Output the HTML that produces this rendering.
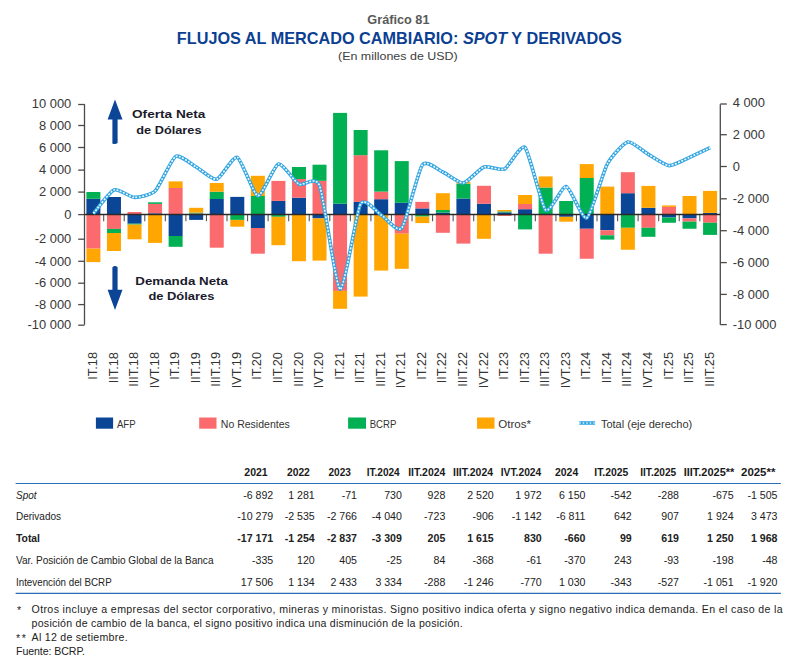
<!DOCTYPE html><html><head><meta charset="utf-8"><style>html,body{margin:0;padding:0;background:#fff;width:800px;height:668px;overflow:hidden}svg{display:block}text{font-family:"Liberation Sans",sans-serif}</style></head><body>
<svg width="800" height="668" viewBox="0 0 800 668">
<text x="398.4" y="23.8" text-anchor="middle" font-size="11.9" font-weight="bold" fill="#595959" textLength="62.2" lengthAdjust="spacingAndGlyphs">Gráfico 81</text>
<text x="176.8" y="44.1" font-size="17.1" font-weight="bold" fill="#0c3f92" textLength="445" lengthAdjust="spacingAndGlyphs">FLUJOS AL MERCADO CAMBIARIO: <tspan font-style="italic">SPOT</tspan> Y DERIVADOS</text>
<text x="338" y="60.3" font-size="10.6" fill="#404040" textLength="119.7" lengthAdjust="spacingAndGlyphs">(En millones de USD)</text>
<rect x="86.40" y="198.80" width="14.00" height="15.70" fill="#0b4595"/>
<rect x="86.40" y="192.00" width="14.00" height="6.80" fill="#00b052"/>
<rect x="86.40" y="214.50" width="14.00" height="34.10" fill="#fb6a6c"/>
<rect x="86.40" y="248.60" width="14.00" height="13.50" fill="#ffa602"/>
<rect x="106.96" y="197.00" width="14.00" height="17.50" fill="#0b4595"/>
<rect x="106.96" y="214.50" width="14.00" height="14.40" fill="#fb6a6c"/>
<rect x="106.96" y="228.90" width="14.00" height="4.10" fill="#00b052"/>
<rect x="106.96" y="233.00" width="14.00" height="18.00" fill="#ffa602"/>
<rect x="127.51" y="212.00" width="14.00" height="2.50" fill="#fb6a6c"/>
<rect x="127.51" y="214.50" width="14.00" height="9.20" fill="#0b4595"/>
<rect x="127.51" y="223.70" width="14.00" height="0.90" fill="#00b052"/>
<rect x="127.51" y="224.60" width="14.00" height="14.70" fill="#ffa602"/>
<rect x="148.07" y="213.30" width="14.00" height="1.20" fill="#0b4595"/>
<rect x="148.07" y="203.90" width="14.00" height="9.40" fill="#fb6a6c"/>
<rect x="148.07" y="202.30" width="14.00" height="1.60" fill="#00b052"/>
<rect x="148.07" y="214.50" width="14.00" height="28.40" fill="#ffa602"/>
<rect x="168.62" y="188.00" width="14.00" height="26.50" fill="#fb6a6c"/>
<rect x="168.62" y="181.40" width="14.00" height="6.60" fill="#ffa602"/>
<rect x="168.62" y="214.50" width="14.00" height="21.50" fill="#0b4595"/>
<rect x="168.62" y="236.00" width="14.00" height="10.80" fill="#00b052"/>
<rect x="189.18" y="213.50" width="14.00" height="1.00" fill="#fb6a6c"/>
<rect x="189.18" y="212.60" width="14.00" height="0.90" fill="#00b052"/>
<rect x="189.18" y="207.80" width="14.00" height="4.80" fill="#ffa602"/>
<rect x="189.18" y="214.50" width="14.00" height="5.40" fill="#0b4595"/>
<rect x="209.74" y="199.00" width="14.00" height="15.50" fill="#0b4595"/>
<rect x="209.74" y="191.70" width="14.00" height="7.30" fill="#00b052"/>
<rect x="209.74" y="183.00" width="14.00" height="8.70" fill="#ffa602"/>
<rect x="209.74" y="214.50" width="14.00" height="33.20" fill="#fb6a6c"/>
<rect x="230.29" y="196.90" width="14.00" height="17.60" fill="#0b4595"/>
<rect x="230.29" y="214.50" width="14.00" height="5.40" fill="#00b052"/>
<rect x="230.29" y="219.90" width="14.00" height="6.80" fill="#ffa602"/>
<rect x="250.85" y="196.00" width="14.00" height="18.50" fill="#00b052"/>
<rect x="250.85" y="175.80" width="14.00" height="20.20" fill="#ffa602"/>
<rect x="250.85" y="214.50" width="14.00" height="13.50" fill="#0b4595"/>
<rect x="250.85" y="228.00" width="14.00" height="25.70" fill="#fb6a6c"/>
<rect x="271.40" y="200.90" width="14.00" height="13.60" fill="#0b4595"/>
<rect x="271.40" y="180.90" width="14.00" height="20.00" fill="#fb6a6c"/>
<rect x="271.40" y="214.50" width="14.00" height="2.30" fill="#00b052"/>
<rect x="271.40" y="216.80" width="14.00" height="28.40" fill="#ffa602"/>
<rect x="291.96" y="197.70" width="14.00" height="16.80" fill="#0b4595"/>
<rect x="291.96" y="179.00" width="14.00" height="18.70" fill="#fb6a6c"/>
<rect x="291.96" y="167.00" width="14.00" height="12.00" fill="#00b052"/>
<rect x="291.96" y="214.50" width="14.00" height="46.70" fill="#ffa602"/>
<rect x="312.52" y="180.80" width="14.00" height="33.70" fill="#fb6a6c"/>
<rect x="312.52" y="164.70" width="14.00" height="16.10" fill="#00b052"/>
<rect x="312.52" y="214.50" width="14.00" height="3.90" fill="#0b4595"/>
<rect x="312.52" y="218.40" width="14.00" height="42.20" fill="#ffa602"/>
<rect x="333.07" y="203.70" width="14.00" height="10.80" fill="#0b4595"/>
<rect x="333.07" y="112.90" width="14.00" height="90.80" fill="#00b052"/>
<rect x="333.07" y="214.50" width="14.00" height="76.40" fill="#fb6a6c"/>
<rect x="333.07" y="290.90" width="14.00" height="17.90" fill="#ffa602"/>
<rect x="353.63" y="201.90" width="14.00" height="12.60" fill="#0b4595"/>
<rect x="353.63" y="155.20" width="14.00" height="46.70" fill="#fb6a6c"/>
<rect x="353.63" y="130.00" width="14.00" height="25.20" fill="#00b052"/>
<rect x="353.63" y="214.50" width="14.00" height="82.10" fill="#ffa602"/>
<rect x="374.18" y="199.20" width="14.00" height="15.30" fill="#0b4595"/>
<rect x="374.18" y="191.60" width="14.00" height="7.60" fill="#fb6a6c"/>
<rect x="374.18" y="150.30" width="14.00" height="41.30" fill="#00b052"/>
<rect x="374.18" y="214.50" width="14.00" height="56.10" fill="#ffa602"/>
<rect x="394.74" y="202.80" width="14.00" height="11.70" fill="#0b4595"/>
<rect x="394.74" y="161.10" width="14.00" height="41.70" fill="#00b052"/>
<rect x="394.74" y="214.50" width="14.00" height="19.20" fill="#fb6a6c"/>
<rect x="394.74" y="233.70" width="14.00" height="35.10" fill="#ffa602"/>
<rect x="415.30" y="208.40" width="14.00" height="6.10" fill="#0b4595"/>
<rect x="415.30" y="201.90" width="14.00" height="6.50" fill="#fb6a6c"/>
<rect x="415.30" y="214.50" width="14.00" height="2.10" fill="#00b052"/>
<rect x="415.30" y="216.60" width="14.00" height="6.50" fill="#ffa602"/>
<rect x="435.85" y="212.60" width="14.00" height="1.90" fill="#0b4595"/>
<rect x="435.85" y="210.00" width="14.00" height="2.60" fill="#00b052"/>
<rect x="435.85" y="193.20" width="14.00" height="16.80" fill="#ffa602"/>
<rect x="435.85" y="214.50" width="14.00" height="18.30" fill="#fb6a6c"/>
<rect x="456.41" y="198.50" width="14.00" height="16.00" fill="#0b4595"/>
<rect x="456.41" y="183.60" width="14.00" height="14.90" fill="#00b052"/>
<rect x="456.41" y="181.70" width="14.00" height="1.90" fill="#ffa602"/>
<rect x="456.41" y="214.50" width="14.00" height="29.10" fill="#fb6a6c"/>
<rect x="476.96" y="203.70" width="14.00" height="10.80" fill="#0b4595"/>
<rect x="476.96" y="185.80" width="14.00" height="17.90" fill="#fb6a6c"/>
<rect x="476.96" y="214.50" width="14.00" height="24.30" fill="#ffa602"/>
<rect x="497.52" y="212.40" width="14.00" height="2.10" fill="#0b4595"/>
<rect x="497.52" y="211.40" width="14.00" height="1.00" fill="#00b052"/>
<rect x="497.52" y="210.00" width="14.00" height="1.40" fill="#ffa602"/>
<rect x="497.52" y="214.50" width="14.00" height="1.40" fill="#fb6a6c"/>
<rect x="518.08" y="209.20" width="14.00" height="5.30" fill="#0b4595"/>
<rect x="518.08" y="204.00" width="14.00" height="5.20" fill="#fb6a6c"/>
<rect x="518.08" y="195.00" width="14.00" height="9.00" fill="#ffa602"/>
<rect x="518.08" y="214.50" width="14.00" height="14.90" fill="#00b052"/>
<rect x="538.63" y="187.50" width="14.00" height="27.00" fill="#00b052"/>
<rect x="538.63" y="176.40" width="14.00" height="11.10" fill="#ffa602"/>
<rect x="538.63" y="214.50" width="14.00" height="39.20" fill="#fb6a6c"/>
<rect x="559.19" y="201.00" width="14.00" height="13.50" fill="#00b052"/>
<rect x="559.19" y="214.50" width="14.00" height="2.30" fill="#0b4595"/>
<rect x="559.19" y="216.80" width="14.00" height="4.90" fill="#ffa602"/>
<rect x="579.74" y="178.00" width="14.00" height="36.50" fill="#00b052"/>
<rect x="579.74" y="164.10" width="14.00" height="13.90" fill="#ffa602"/>
<rect x="579.74" y="214.50" width="14.00" height="14.25" fill="#0b4595"/>
<rect x="579.74" y="228.75" width="14.00" height="30.00" fill="#fb6a6c"/>
<rect x="600.30" y="186.60" width="14.00" height="27.90" fill="#ffa602"/>
<rect x="600.30" y="214.50" width="14.00" height="15.75" fill="#0b4595"/>
<rect x="600.30" y="230.25" width="14.00" height="5.05" fill="#fb6a6c"/>
<rect x="600.30" y="235.30" width="14.00" height="4.30" fill="#00b052"/>
<rect x="620.86" y="193.20" width="14.00" height="21.30" fill="#0b4595"/>
<rect x="620.86" y="172.20" width="14.00" height="21.00" fill="#fb6a6c"/>
<rect x="620.86" y="214.50" width="14.00" height="13.30" fill="#00b052"/>
<rect x="620.86" y="227.80" width="14.00" height="21.95" fill="#ffa602"/>
<rect x="641.41" y="207.80" width="14.00" height="6.70" fill="#0b4595"/>
<rect x="641.41" y="185.90" width="14.00" height="21.90" fill="#ffa602"/>
<rect x="641.41" y="214.50" width="14.00" height="13.30" fill="#fb6a6c"/>
<rect x="641.41" y="227.80" width="14.00" height="9.00" fill="#00b052"/>
<rect x="661.97" y="206.90" width="14.00" height="7.60" fill="#fb6a6c"/>
<rect x="661.97" y="205.40" width="14.00" height="1.50" fill="#ffa602"/>
<rect x="661.97" y="214.50" width="14.00" height="3.00" fill="#0b4595"/>
<rect x="661.97" y="217.50" width="14.00" height="5.25" fill="#00b052"/>
<rect x="682.52" y="196.00" width="14.00" height="18.50" fill="#ffa602"/>
<rect x="682.52" y="214.50" width="14.00" height="3.90" fill="#0b4595"/>
<rect x="682.52" y="218.40" width="14.00" height="3.20" fill="#fb6a6c"/>
<rect x="682.52" y="221.60" width="14.00" height="7.15" fill="#00b052"/>
<rect x="703.08" y="212.90" width="14.00" height="1.60" fill="#0b4595"/>
<rect x="703.08" y="190.90" width="14.00" height="22.00" fill="#ffa602"/>
<rect x="703.08" y="214.50" width="14.00" height="8.25" fill="#fb6a6c"/>
<rect x="703.08" y="222.75" width="14.00" height="12.15" fill="#00b052"/>
<g stroke="#4a4a4a" stroke-width="1.3" fill="none">
<path d="M84.50,104.20 V324.80"/>
<path d="M720.30,104.20 V324.80"/>
<path d="M78.2,104.50 H84.50"/>
<path d="M78.2,125.50 H84.50"/>
<path d="M78.2,147.50 H84.50"/>
<path d="M78.2,170.10 H84.50"/>
<path d="M78.2,192.10 H84.50"/>
<path d="M78.2,214.60 H84.50"/>
<path d="M78.2,239.20 H84.50"/>
<path d="M78.2,261.30 H84.50"/>
<path d="M78.2,283.20 H84.50"/>
<path d="M78.2,304.60 H84.50"/>
<path d="M78.2,325.20 H84.50"/>
<path d="M720.30,104.00 H726.8"/>
<path d="M720.30,134.70 H726.8"/>
<path d="M720.30,166.50 H726.8"/>
<path d="M720.30,198.80 H726.8"/>
<path d="M720.30,230.70 H726.8"/>
<path d="M720.30,262.60 H726.8"/>
<path d="M720.30,294.40 H726.8"/>
<path d="M720.30,324.60 H726.8"/>
</g>
<g stroke="#555" stroke-width="1.1" fill="none">
<path d="M103.68,214.50 V221.2"/>
<path d="M124.23,214.50 V221.2"/>
<path d="M144.79,214.50 V221.2"/>
<path d="M165.35,214.50 V221.2"/>
<path d="M185.90,214.50 V221.2"/>
<path d="M206.46,214.50 V221.2"/>
<path d="M227.01,214.50 V221.2"/>
<path d="M247.57,214.50 V221.2"/>
<path d="M268.13,214.50 V221.2"/>
<path d="M288.68,214.50 V221.2"/>
<path d="M309.24,214.50 V221.2"/>
<path d="M329.79,214.50 V221.2"/>
<path d="M350.35,214.50 V221.2"/>
<path d="M370.91,214.50 V221.2"/>
<path d="M391.46,214.50 V221.2"/>
<path d="M412.02,214.50 V221.2"/>
<path d="M432.57,214.50 V221.2"/>
<path d="M453.13,214.50 V221.2"/>
<path d="M473.69,214.50 V221.2"/>
<path d="M494.24,214.50 V221.2"/>
<path d="M514.80,214.50 V221.2"/>
<path d="M535.35,214.50 V221.2"/>
<path d="M555.91,214.50 V221.2"/>
<path d="M576.47,214.50 V221.2"/>
<path d="M597.02,214.50 V221.2"/>
<path d="M617.58,214.50 V221.2"/>
<path d="M638.13,214.50 V221.2"/>
<path d="M658.69,214.50 V221.2"/>
<path d="M679.25,214.50 V221.2"/>
<path d="M699.80,214.50 V221.2"/>
</g>
<path d="M84.50,214.50 H720.30" stroke="#2a2a2a" stroke-width="1.4"/>
<text x="71.3" y="107.70" text-anchor="end" font-size="12.9" fill="#383838">10 000</text>
<text x="71.3" y="129.70" text-anchor="end" font-size="12.9" fill="#383838">8 000</text>
<text x="71.3" y="151.70" text-anchor="end" font-size="12.9" fill="#383838">6 000</text>
<text x="71.3" y="174.30" text-anchor="end" font-size="12.9" fill="#383838">4 000</text>
<text x="71.3" y="196.30" text-anchor="end" font-size="12.9" fill="#383838">2 000</text>
<text x="71.3" y="218.80" text-anchor="end" font-size="12.9" fill="#383838">0</text>
<text x="71.3" y="243.40" text-anchor="end" font-size="12.9" fill="#383838">-2 000</text>
<text x="71.3" y="265.50" text-anchor="end" font-size="12.9" fill="#383838">-4 000</text>
<text x="71.3" y="287.40" text-anchor="end" font-size="12.9" fill="#383838">-6 000</text>
<text x="71.3" y="308.80" text-anchor="end" font-size="12.9" fill="#383838">-8 000</text>
<text x="71.3" y="329.40" text-anchor="end" font-size="12.9" fill="#383838">-10 000</text>
<text x="732.7" y="107.20" font-size="12.9" fill="#383838">4 000</text>
<text x="732.7" y="138.90" font-size="12.9" fill="#383838">2 000</text>
<text x="732.7" y="170.70" font-size="12.9" fill="#383838">0</text>
<text x="732.7" y="203.00" font-size="12.9" fill="#383838">-2 000</text>
<text x="732.7" y="234.90" font-size="12.9" fill="#383838">-4 000</text>
<text x="732.7" y="266.80" font-size="12.9" fill="#383838">-6 000</text>
<text x="732.7" y="298.60" font-size="12.9" fill="#383838">-8 000</text>
<text x="732.7" y="328.80" font-size="12.9" fill="#383838">-10 000</text>
<text transform="translate(97.00,352) rotate(-90)" text-anchor="end" font-size="12.8" fill="#333">IT.18</text>
<text transform="translate(117.56,352) rotate(-90)" text-anchor="end" font-size="12.8" fill="#333">IIT.18</text>
<text transform="translate(138.11,352) rotate(-90)" text-anchor="end" font-size="12.8" fill="#333">IIIT.18</text>
<text transform="translate(158.67,352) rotate(-90)" text-anchor="end" font-size="12.8" fill="#333">IVT.18</text>
<text transform="translate(179.22,352) rotate(-90)" text-anchor="end" font-size="12.8" fill="#333">IT.19</text>
<text transform="translate(199.78,352) rotate(-90)" text-anchor="end" font-size="12.8" fill="#333">IIT.19</text>
<text transform="translate(220.34,352) rotate(-90)" text-anchor="end" font-size="12.8" fill="#333">IIIT.19</text>
<text transform="translate(240.89,352) rotate(-90)" text-anchor="end" font-size="12.8" fill="#333">IVT.19</text>
<text transform="translate(261.45,352) rotate(-90)" text-anchor="end" font-size="12.8" fill="#333">IT.20</text>
<text transform="translate(282.00,352) rotate(-90)" text-anchor="end" font-size="12.8" fill="#333">IIT.20</text>
<text transform="translate(302.56,352) rotate(-90)" text-anchor="end" font-size="12.8" fill="#333">IIIT.20</text>
<text transform="translate(323.12,352) rotate(-90)" text-anchor="end" font-size="12.8" fill="#333">IVT.20</text>
<text transform="translate(343.67,352) rotate(-90)" text-anchor="end" font-size="12.8" fill="#333">IT.21</text>
<text transform="translate(364.23,352) rotate(-90)" text-anchor="end" font-size="12.8" fill="#333">IIT.21</text>
<text transform="translate(384.78,352) rotate(-90)" text-anchor="end" font-size="12.8" fill="#333">IIIT.21</text>
<text transform="translate(405.34,352) rotate(-90)" text-anchor="end" font-size="12.8" fill="#333">IVT.21</text>
<text transform="translate(425.90,352) rotate(-90)" text-anchor="end" font-size="12.8" fill="#333">IT.22</text>
<text transform="translate(446.45,352) rotate(-90)" text-anchor="end" font-size="12.8" fill="#333">IIT.22</text>
<text transform="translate(467.01,352) rotate(-90)" text-anchor="end" font-size="12.8" fill="#333">IIIT.22</text>
<text transform="translate(487.56,352) rotate(-90)" text-anchor="end" font-size="12.8" fill="#333">IVT.22</text>
<text transform="translate(508.12,352) rotate(-90)" text-anchor="end" font-size="12.8" fill="#333">IT.23</text>
<text transform="translate(528.68,352) rotate(-90)" text-anchor="end" font-size="12.8" fill="#333">IIT.23</text>
<text transform="translate(549.23,352) rotate(-90)" text-anchor="end" font-size="12.8" fill="#333">IIIT.23</text>
<text transform="translate(569.79,352) rotate(-90)" text-anchor="end" font-size="12.8" fill="#333">IVT.23</text>
<text transform="translate(590.34,352) rotate(-90)" text-anchor="end" font-size="12.8" fill="#333">IT.24</text>
<text transform="translate(610.90,352) rotate(-90)" text-anchor="end" font-size="12.8" fill="#333">IIT.24</text>
<text transform="translate(631.46,352) rotate(-90)" text-anchor="end" font-size="12.8" fill="#333">IIIT.24</text>
<text transform="translate(652.01,352) rotate(-90)" text-anchor="end" font-size="12.8" fill="#333">IVT.24</text>
<text transform="translate(672.57,352) rotate(-90)" text-anchor="end" font-size="12.8" fill="#333">IT.25</text>
<text transform="translate(693.12,352) rotate(-90)" text-anchor="end" font-size="12.8" fill="#333">IIT.25</text>
<text transform="translate(713.68,352) rotate(-90)" text-anchor="end" font-size="12.8" fill="#333">IIIT.25</text>
<path d="M93.40,213.50 C95.46,211.15 109.84,191.61 113.96,190.00 C118.07,188.39 130.40,197.30 134.51,197.40 C138.62,197.50 150.96,195.09 155.07,191.00 C159.18,186.91 171.51,158.90 175.62,156.50 C179.74,154.10 192.07,164.72 196.18,167.00 C200.29,169.28 212.62,180.27 216.74,179.30 C220.85,178.33 233.18,155.65 237.29,157.30 C241.40,158.95 253.74,195.13 257.85,195.80 C261.96,196.47 274.29,165.15 278.40,164.00 C282.52,162.85 294.85,182.15 298.96,184.30 C303.07,186.45 315.40,175.01 319.52,185.50 C323.63,195.99 335.96,287.36 340.07,289.20 C344.18,291.04 356.52,211.32 360.63,203.90 C364.74,196.48 377.07,212.58 381.18,215.00 C385.30,217.42 397.63,233.10 401.74,228.10 C405.85,223.10 418.18,170.61 422.30,165.00 C426.41,159.39 438.74,170.20 442.85,172.00 C446.96,173.80 459.30,183.50 463.41,183.00 C467.52,182.50 479.85,168.40 483.96,167.00 C488.08,165.60 500.41,170.94 504.52,169.00 C508.63,167.06 520.96,143.50 525.08,147.60 C529.19,151.70 541.52,206.10 545.63,210.00 C549.74,213.90 562.08,185.80 566.19,186.60 C570.30,187.40 582.63,220.26 586.74,218.00 C590.86,215.74 603.19,171.60 607.30,164.00 C611.41,156.40 623.74,142.96 627.86,142.00 C631.97,141.04 644.30,152.04 648.41,154.40 C652.52,156.76 664.86,165.30 668.97,165.60 C673.08,165.90 685.41,159.19 689.52,157.40 C693.64,155.61 708.02,148.67 710.08,147.70" fill="none" stroke="#33a6e2" stroke-width="3.6" stroke-linejoin="round"/>
<path d="M93.40,213.50 C95.46,211.15 109.84,191.61 113.96,190.00 C118.07,188.39 130.40,197.30 134.51,197.40 C138.62,197.50 150.96,195.09 155.07,191.00 C159.18,186.91 171.51,158.90 175.62,156.50 C179.74,154.10 192.07,164.72 196.18,167.00 C200.29,169.28 212.62,180.27 216.74,179.30 C220.85,178.33 233.18,155.65 237.29,157.30 C241.40,158.95 253.74,195.13 257.85,195.80 C261.96,196.47 274.29,165.15 278.40,164.00 C282.52,162.85 294.85,182.15 298.96,184.30 C303.07,186.45 315.40,175.01 319.52,185.50 C323.63,195.99 335.96,287.36 340.07,289.20 C344.18,291.04 356.52,211.32 360.63,203.90 C364.74,196.48 377.07,212.58 381.18,215.00 C385.30,217.42 397.63,233.10 401.74,228.10 C405.85,223.10 418.18,170.61 422.30,165.00 C426.41,159.39 438.74,170.20 442.85,172.00 C446.96,173.80 459.30,183.50 463.41,183.00 C467.52,182.50 479.85,168.40 483.96,167.00 C488.08,165.60 500.41,170.94 504.52,169.00 C508.63,167.06 520.96,143.50 525.08,147.60 C529.19,151.70 541.52,206.10 545.63,210.00 C549.74,213.90 562.08,185.80 566.19,186.60 C570.30,187.40 582.63,220.26 586.74,218.00 C590.86,215.74 603.19,171.60 607.30,164.00 C611.41,156.40 623.74,142.96 627.86,142.00 C631.97,141.04 644.30,152.04 648.41,154.40 C652.52,156.76 664.86,165.30 668.97,165.60 C673.08,165.90 685.41,159.19 689.52,157.40 C693.64,155.61 708.02,148.67 710.08,147.70" fill="none" stroke="#ffffff" stroke-width="1.6" stroke-dasharray="1.9 1.5" opacity="0.95"/>
<path d="M115,99.4 L122.5,119.6 L117.6,119.6 L117.6,143 Q115,145 112.4,143.4 L112.4,119.6 L107.6,119.6 Z" fill="#0c4596"/>
<path d="M115,310 L122.5,289.7 L117.6,289.7 L117.6,267.3 Q115,264.8 112.4,267.3 L112.4,289.7 L107.6,289.7 Z" fill="#0c4596"/>
<text x="132" y="118" font-size="11.8" font-weight="bold" fill="#1a1a2a" textLength="73.4" lengthAdjust="spacingAndGlyphs">Oferta Neta</text>
<text x="136.3" y="133.8" font-size="11.8" font-weight="bold" fill="#1a1a2a" textLength="65.2" lengthAdjust="spacingAndGlyphs">de Dólares</text>
<text x="135.3" y="284.7" font-size="11.8" font-weight="bold" fill="#1a1a2a" textLength="92.6" lengthAdjust="spacingAndGlyphs">Demanda Neta</text>
<text x="148.4" y="300" font-size="11.8" font-weight="bold" fill="#1a1a2a" textLength="66" lengthAdjust="spacingAndGlyphs">de Dólares</text>
<rect x="95.9" y="417.5" width="17.2" height="11.2" fill="#0b4595"/>
<text x="116.9" y="427.5" font-size="10.8" fill="#333" textLength="18.7" lengthAdjust="spacingAndGlyphs">AFP</text>
<rect x="199.2" y="417.5" width="17.3" height="11.2" fill="#fb6a6c"/>
<text x="220.8" y="427.5" font-size="10.8" fill="#333" textLength="69" lengthAdjust="spacingAndGlyphs">No Residentes</text>
<rect x="348.1" y="417.5" width="17.9" height="11.2" fill="#00b052"/>
<text x="369.7" y="427.5" font-size="10.8" fill="#333" textLength="26.7" lengthAdjust="spacingAndGlyphs">BCRP</text>
<rect x="477" y="417.5" width="17.5" height="11.2" fill="#ffa602"/>
<text x="498.3" y="427.5" font-size="10.8" fill="#333" textLength="32.7" lengthAdjust="spacingAndGlyphs">Otros*</text>
<path d="M579.3,423 H595.1" stroke="#33a6e2" stroke-width="3.6"/>
<path d="M579.3,423 H595.1" stroke="#fff" stroke-width="1.3" stroke-dasharray="1.4 2.1" opacity="0.85"/>
<text x="600.9" y="427.5" font-size="10.8" fill="#333" textLength="91.4" lengthAdjust="spacingAndGlyphs">Total (eje derecho)</text>
<text x="256.00" y="476" text-anchor="middle" font-size="10.4" font-weight="bold" fill="#1a1a1a" textLength="23.4" lengthAdjust="spacingAndGlyphs">2021</text>
<text x="298.40" y="476" text-anchor="middle" font-size="10.4" font-weight="bold" fill="#1a1a1a" textLength="22.9" lengthAdjust="spacingAndGlyphs">2022</text>
<text x="339.75" y="476" text-anchor="middle" font-size="10.4" font-weight="bold" fill="#1a1a1a" textLength="22.5" lengthAdjust="spacingAndGlyphs">2023</text>
<text x="383.20" y="476" text-anchor="middle" font-size="10.4" font-weight="bold" fill="#1a1a1a" textLength="33.0" lengthAdjust="spacingAndGlyphs">IT.2024</text>
<text x="426.75" y="476" text-anchor="middle" font-size="10.4" font-weight="bold" fill="#1a1a1a" textLength="37.1" lengthAdjust="spacingAndGlyphs">IIT.2024</text>
<text x="473.00" y="476" text-anchor="middle" font-size="10.4" font-weight="bold" fill="#1a1a1a" textLength="40.0" lengthAdjust="spacingAndGlyphs">IIIT.2024</text>
<text x="521.00" y="476" text-anchor="middle" font-size="10.4" font-weight="bold" fill="#1a1a1a" textLength="40.5" lengthAdjust="spacingAndGlyphs">IVT.2024</text>
<text x="566.60" y="476" text-anchor="middle" font-size="10.4" font-weight="bold" fill="#1a1a1a" textLength="23.2" lengthAdjust="spacingAndGlyphs">2024</text>
<text x="611.25" y="476" text-anchor="middle" font-size="10.4" font-weight="bold" fill="#1a1a1a" textLength="34.0" lengthAdjust="spacingAndGlyphs">IT.2025</text>
<text x="658.25" y="476" text-anchor="middle" font-size="10.4" font-weight="bold" fill="#1a1a1a" textLength="36.0" lengthAdjust="spacingAndGlyphs">IIT.2025</text>
<text x="709.00" y="476" text-anchor="middle" font-size="10.4" font-weight="bold" fill="#1a1a1a" textLength="50.6" lengthAdjust="spacingAndGlyphs">IIIT.2025**</text>
<text x="758.20" y="476" text-anchor="middle" font-size="10.4" font-weight="bold" fill="#1a1a1a" textLength="34.3" lengthAdjust="spacingAndGlyphs">2025**</text>
<path d="M15.6,483.5 H780.9" stroke="#2a6db5" stroke-width="1.2"/>
<path d="M15.6,593.3 H780.9" stroke="#2a6db5" stroke-width="1.2"/>
<text x="16" y="499.2" font-size="10.6" fill="#222" font-style="italic" textLength="20.5" lengthAdjust="spacingAndGlyphs">Spot</text>
<text x="273.20" y="499.2" text-anchor="end" font-size="10.6" fill="#222">-6 892</text>
<text x="314.70" y="499.2" text-anchor="end" font-size="10.6" fill="#222">1 281</text>
<text x="357.00" y="499.2" text-anchor="end" font-size="10.6" fill="#222">-71</text>
<text x="401.90" y="499.2" text-anchor="end" font-size="10.6" fill="#222">730</text>
<text x="445.30" y="499.2" text-anchor="end" font-size="10.6" fill="#222">928</text>
<text x="493.75" y="499.2" text-anchor="end" font-size="10.6" fill="#222">2 520</text>
<text x="541.75" y="499.2" text-anchor="end" font-size="10.6" fill="#222">1 972</text>
<text x="585.50" y="499.2" text-anchor="end" font-size="10.6" fill="#222">6 150</text>
<text x="631.75" y="499.2" text-anchor="end" font-size="10.6" fill="#222">-542</text>
<text x="679.00" y="499.2" text-anchor="end" font-size="10.6" fill="#222">-288</text>
<text x="733.60" y="499.2" text-anchor="end" font-size="10.6" fill="#222">-675</text>
<text x="777.50" y="499.2" text-anchor="end" font-size="10.6" fill="#222">-1 505</text>
<text x="16" y="520.0" font-size="10.6" fill="#222" textLength="45.0" lengthAdjust="spacingAndGlyphs">Derivados</text>
<text x="273.20" y="520.0" text-anchor="end" font-size="10.6" fill="#222">-10 279</text>
<text x="314.70" y="520.0" text-anchor="end" font-size="10.6" fill="#222">-2 535</text>
<text x="357.00" y="520.0" text-anchor="end" font-size="10.6" fill="#222">-2 766</text>
<text x="401.90" y="520.0" text-anchor="end" font-size="10.6" fill="#222">-4 040</text>
<text x="445.30" y="520.0" text-anchor="end" font-size="10.6" fill="#222">-723</text>
<text x="493.75" y="520.0" text-anchor="end" font-size="10.6" fill="#222">-906</text>
<text x="541.75" y="520.0" text-anchor="end" font-size="10.6" fill="#222">-1 142</text>
<text x="585.50" y="520.0" text-anchor="end" font-size="10.6" fill="#222">-6 811</text>
<text x="631.75" y="520.0" text-anchor="end" font-size="10.6" fill="#222">642</text>
<text x="679.00" y="520.0" text-anchor="end" font-size="10.6" fill="#222">907</text>
<text x="733.60" y="520.0" text-anchor="end" font-size="10.6" fill="#222">1 924</text>
<text x="777.50" y="520.0" text-anchor="end" font-size="10.6" fill="#222">3 473</text>
<text x="16" y="542.0" font-size="10.6" fill="#222" font-weight="bold" textLength="24.0" lengthAdjust="spacingAndGlyphs">Total</text>
<text x="273.20" y="542.0" text-anchor="end" font-size="10.6" fill="#222" font-weight="bold">-17 171</text>
<text x="314.70" y="542.0" text-anchor="end" font-size="10.6" fill="#222" font-weight="bold">-1 254</text>
<text x="357.00" y="542.0" text-anchor="end" font-size="10.6" fill="#222" font-weight="bold">-2 837</text>
<text x="401.90" y="542.0" text-anchor="end" font-size="10.6" fill="#222" font-weight="bold">-3 309</text>
<text x="445.30" y="542.0" text-anchor="end" font-size="10.6" fill="#222" font-weight="bold">205</text>
<text x="493.75" y="542.0" text-anchor="end" font-size="10.6" fill="#222" font-weight="bold">1 615</text>
<text x="541.75" y="542.0" text-anchor="end" font-size="10.6" fill="#222" font-weight="bold">830</text>
<text x="585.50" y="542.0" text-anchor="end" font-size="10.6" fill="#222" font-weight="bold">-660</text>
<text x="631.75" y="542.0" text-anchor="end" font-size="10.6" fill="#222" font-weight="bold">99</text>
<text x="679.00" y="542.0" text-anchor="end" font-size="10.6" fill="#222" font-weight="bold">619</text>
<text x="733.60" y="542.0" text-anchor="end" font-size="10.6" fill="#222" font-weight="bold">1 250</text>
<text x="777.50" y="542.0" text-anchor="end" font-size="10.6" fill="#222" font-weight="bold">1 968</text>
<text x="16" y="564.0" font-size="10.6" fill="#222" textLength="197.5" lengthAdjust="spacingAndGlyphs">Var. Posición de Cambio Global de la Banca</text>
<text x="273.20" y="564.0" text-anchor="end" font-size="10.6" fill="#222">-335</text>
<text x="314.70" y="564.0" text-anchor="end" font-size="10.6" fill="#222">120</text>
<text x="357.00" y="564.0" text-anchor="end" font-size="10.6" fill="#222">405</text>
<text x="401.90" y="564.0" text-anchor="end" font-size="10.6" fill="#222">-25</text>
<text x="445.30" y="564.0" text-anchor="end" font-size="10.6" fill="#222">84</text>
<text x="493.75" y="564.0" text-anchor="end" font-size="10.6" fill="#222">-368</text>
<text x="541.75" y="564.0" text-anchor="end" font-size="10.6" fill="#222">-61</text>
<text x="585.50" y="564.0" text-anchor="end" font-size="10.6" fill="#222">-370</text>
<text x="631.75" y="564.0" text-anchor="end" font-size="10.6" fill="#222">243</text>
<text x="679.00" y="564.0" text-anchor="end" font-size="10.6" fill="#222">-93</text>
<text x="733.60" y="564.0" text-anchor="end" font-size="10.6" fill="#222">-198</text>
<text x="777.50" y="564.0" text-anchor="end" font-size="10.6" fill="#222">-48</text>
<text x="16" y="585.8" font-size="10.6" fill="#222" textLength="95.7" lengthAdjust="spacingAndGlyphs">Intevención del BCRP</text>
<text x="273.20" y="585.8" text-anchor="end" font-size="10.6" fill="#222">17 506</text>
<text x="314.70" y="585.8" text-anchor="end" font-size="10.6" fill="#222">1 134</text>
<text x="357.00" y="585.8" text-anchor="end" font-size="10.6" fill="#222">2 433</text>
<text x="401.90" y="585.8" text-anchor="end" font-size="10.6" fill="#222">3 334</text>
<text x="445.30" y="585.8" text-anchor="end" font-size="10.6" fill="#222">-288</text>
<text x="493.75" y="585.8" text-anchor="end" font-size="10.6" fill="#222">-1 246</text>
<text x="541.75" y="585.8" text-anchor="end" font-size="10.6" fill="#222">-770</text>
<text x="585.50" y="585.8" text-anchor="end" font-size="10.6" fill="#222">1 030</text>
<text x="631.75" y="585.8" text-anchor="end" font-size="10.6" fill="#222">-343</text>
<text x="679.00" y="585.8" text-anchor="end" font-size="10.6" fill="#222">-527</text>
<text x="733.60" y="585.8" text-anchor="end" font-size="10.6" fill="#222">-1 051</text>
<text x="777.50" y="585.8" text-anchor="end" font-size="10.6" fill="#222">-1 920</text>
<text x="17" y="613.6" font-size="10.6" fill="#222">*</text>
<text x="31.6" y="612.6" font-size="10.6" fill="#222" textLength="751" lengthAdjust="spacing">Otros incluye a empresas del sector corporativo, mineras y minoristas. Signo positivo indica oferta y signo negativo indica demanda. En el caso de la</text>
<text x="31.6" y="627" font-size="10.6" fill="#222" textLength="431" lengthAdjust="spacing">posición de cambio de la banca, el signo positivo indica una disminución de la posición.</text>
<text x="16" y="641.6" font-size="10.6" fill="#222" letter-spacing="1.6">**</text>
<text x="31.6" y="640.6" font-size="10.6" fill="#222" textLength="96" lengthAdjust="spacing">Al 12 de setiembre.</text>
<text x="16" y="654.6" font-size="10.6" fill="#222" textLength="69" lengthAdjust="spacing">Fuente: BCRP.</text>
</svg></body></html>
